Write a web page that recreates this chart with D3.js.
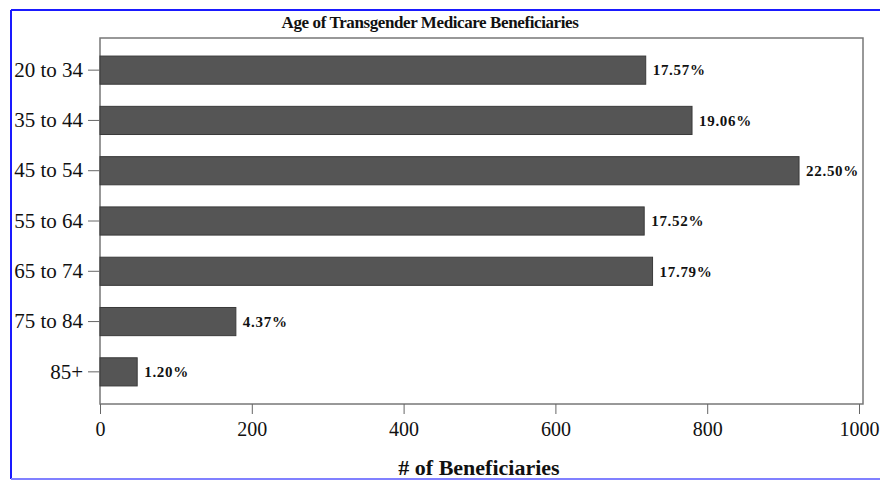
<!DOCTYPE html>
<html lang="en">
<head>
<meta charset="utf-8">
<title>Age of Transgender Medicare Beneficiaries</title>
<style>
	body { margin: 0; background: #fff; }
	text { font-family: "Liberation Serif", "Times New Roman", serif; fill: #111; }
	.frame { fill: none; stroke: #777; stroke-width: 1.5px; }
	.bar { fill: #555; stroke: #3a3a3a; stroke-width: 1px; }
</style>
</head>
<body>
<div id="chart"></div>
<script src="https://cdn.jsdelivr.net/npm/d3@7"></script>
<script>
	var width = 880,
		height = 481;

	// data
	var ageGroups = ["20 to 34", "35 to 44", "45 to 54", "55 to 64", "65 to 74", "75 to 84", "85+"];
	var counts = [719, 780, 921, 717, 728, 179, 49];
	var pctLabels = ["17.57%", "19.06%", "22.50%", "17.52%", "17.79%", "4.37%", "1.20%"];
	var xTicks = [0, 200, 400, 600, 800, 1000];

	var rows = ageGroups.map(function (g, i) {
		return { group: g, n: counts[i], pct: pctLabels[i] };
	});

	// plot box (don't use "top", it's window.top)
	var plotLeft = 100, plotRight = 863, plotTop = 38, plotBottom = 404;

	var svg = d3.select("#chart")
		.append("svg")
		.attr("width", width)
		.attr("height", height);

	// blue outer border
	svg.append("line")
		.attr("x1", 11).attr("y1", 10).attr("x2", 880).attr("y2", 10)
		.attr("stroke", "#1a1aff").attr("stroke-width", 2);
	svg.append("line")
		.attr("x1", 11).attr("y1", 10).attr("x2", 11).attr("y2", 479)
		.attr("stroke", "#1a1aff").attr("stroke-width", 2);
	svg.append("line")
		.attr("x1", 11).attr("y1", 479).attr("x2", 880).attr("y2", 479)
		.attr("stroke", "#8080ff").attr("stroke-width", 2);

	var x = d3.scaleLinear().domain([0, 1000]).range([plotLeft, 859]);
	var y = d3.scaleBand().domain(ageGroups).range([45, 397]).paddingInner(0.44).paddingOuter(0.22);

	// plot frame
	svg.append("rect")
		.attr("class", "frame")
		.attr("x", plotLeft).attr("y", plotTop)
		.attr("width", plotRight - plotLeft).attr("height", plotBottom - plotTop);

	svg.append("g")
		.selectAll("rect")
		.data(rows)
		.enter().append("rect")
		.attr("class", "bar")
		.attr("x", x(0))
		.attr("y", function (d) { return y(d.group); })
		.attr("width", function (d) { return x(d.n) - x(0); })
		.attr("height", y.bandwidth());

	svg.append("g")
		.selectAll("text")
		.data(rows)
		.enter().append("text")
		.attr("x", function (d) { return x(d.n) + 7; })
		.attr("y", function (d) { return y(d.group) + y.bandwidth() / 2; })
		.attr("dy", "0.35em")
		.style("font-size", "15px")
		.style("font-weight", "bold")
		.style("letter-spacing", "0.7px")
		.text(function (d) { return d.pct; });

	// x axis
	var xAxis = svg.append("g")
		.attr("transform", "translate(0," + plotBottom + ")")
		.call(d3.axisBottom(x).tickValues(xTicks).tickFormat(d3.format("d")).tickSize(10).tickPadding(8));
	xAxis.select(".domain").remove();
	xAxis.selectAll("line").attr("stroke", "#666");
	xAxis.selectAll("text")
		.style("font-family", "'Liberation Serif', serif")
		.style("font-size", "20px")
		.attr("fill", "#111");

	// y axis
	var yAxis = svg.append("g")
		.attr("transform", "translate(" + plotLeft + ",0)")
		.call(d3.axisLeft(y).tickSize(12).tickPadding(5));
	yAxis.select(".domain").remove();
	yAxis.selectAll("line").attr("stroke", "#666");
	yAxis.selectAll("text")
		.style("font-family", "'Liberation Serif', serif")
		.style("font-size", "21px")
		.attr("fill", "#111");

	// titles
	svg.append("text")
		.attr("x", 430).attr("y", 28)
		.attr("text-anchor", "middle")
		.style("font-size", "17px")
		.style("font-weight", "bold")
		.style("letter-spacing", "-0.4px")
		.text("Age of Transgender Medicare Beneficiaries");

	svg.append("text")
		.attr("x", 479).attr("y", 475)
		.attr("text-anchor", "middle")
		.style("font-size", "22px")
		.style("font-weight", "bold")
		.text("# of Beneficiaries");
</script>
</body>
</html>
